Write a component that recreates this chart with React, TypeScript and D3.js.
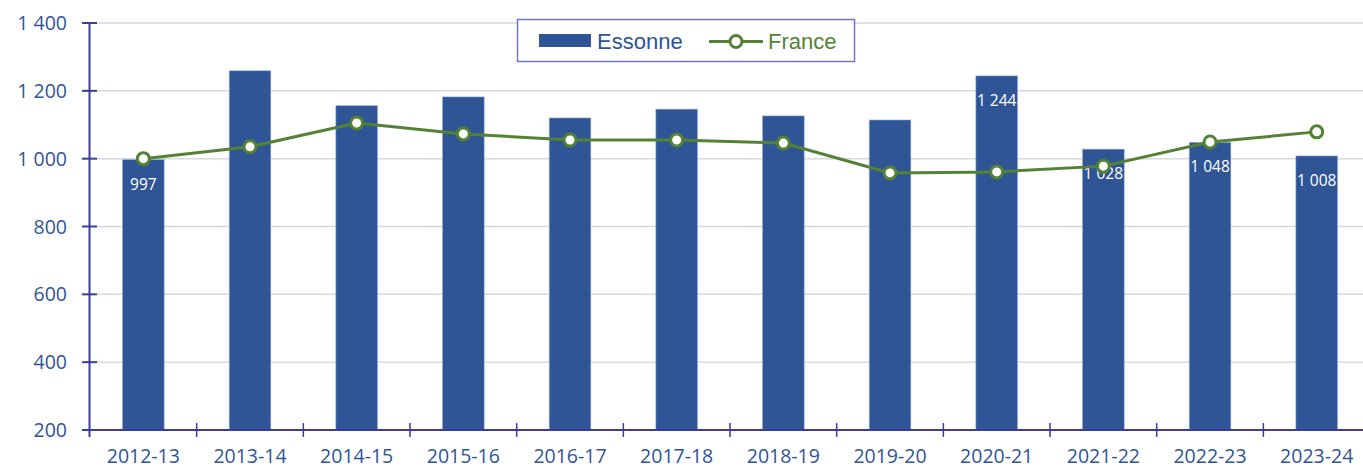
import React from "react";
import * as d3 from "d3";

const categories = ["2012-13","2013-14","2014-15","2015-16","2016-17","2017-18","2018-19","2019-20","2020-21","2021-22","2022-23","2023-24"];
const essonne = [997, 1259, 1156, 1182, 1120, 1146, 1126, 1114, 1244, 1028, 1048, 1008];
const france = [1000, 1035, 1105, 1073, 1055, 1055, 1046, 958, 961, 978, 1049, 1079];
const showLabel = [true, false, false, false, false, false, false, false, true, true, true, true];
const yTicks = [200, 400, 600, 800, 1000, 1200, 1400];

const W = 1363, H = 468;
const BLUE = "#2F5597";
const GREEN = "#548235";
const AXIS = "#3C3C9C";
const FONT = "'Open Sans', sans-serif";

const fr = d3.formatLocale({ decimal: ",", thousands: " ", grouping: [3], currency: ["", " €"] });
const fmt = fr.format(",d");

export default function App() {
  const x = d3.scaleBand<string>().domain(categories).range([90, 90 + 12 * 106.67]).paddingInner(0).paddingOuter(0);
  const y = d3.scaleLinear().domain([200, 1400]).range([430, 23]);
  const bw = x.bandwidth() * 0.39;
  const cx = (c: string) => (x(c) as number) + x.bandwidth() / 2;
  const line = d3.line<number>().x((_, i) => cx(categories[i])).y(d => y(d));

  return (
    <svg width={W} height={H} style={{ position: "absolute", left: 0, top: 0, background: "#fff" }}>
      <rect x={0} y={0} width={W} height={H} fill="#fff" />
      {yTicks.filter(t => t > 200).map(t => (
        <line key={t} x1={97} x2={W} y1={y(t)} y2={y(t)} stroke="#D9D9D9" strokeWidth={1.5} />
      ))}
      {essonne.map((v, i) => (
        <rect key={i} x={cx(categories[i]) - bw / 2} y={y(v)} width={bw} height={y(200) - y(v)} fill={BLUE} stroke="#8FA6CF" strokeWidth={0.6} />
      ))}
      {essonne.map((v, i) => showLabel[i] ? (
        <text key={i} x={cx(categories[i])} y={y(v) + 30} textAnchor="middle" fill="#fff" fontFamily={FONT} fontSize={15.5}>{fmt(v)}</text>
      ) : null)}
      <line x1={89.5} x2={89.5} y1={y(1400)} y2={437} stroke={AXIS} strokeWidth={2} />
      {yTicks.map(t => (
        <line key={t} x1={82} x2={97} y1={y(t)} y2={y(t)} stroke={AXIS} strokeWidth={2} />
      ))}
      {yTicks.map(t => (
        <text key={t} x={67} y={y(t)} dy="0.36em" textAnchor="end" fill={BLUE} fontFamily={FONT} fontSize={19.5}>{fmt(t)}</text>
      ))}
      <line x1={89} x2={W} y1={430} y2={430} stroke={AXIS} strokeWidth={2} />
      {categories.map((c, i) => i > 0 ? (
        <line key={c} x1={x(c) as number} x2={x(c) as number} y1={423} y2={437} stroke={AXIS} strokeWidth={1.5} />
      ) : null)}
      {categories.map(c => (
        <text key={c} x={cx(c)} y={462.5} textAnchor="middle" fill={BLUE} fontFamily={FONT} fontSize={19.5}>{c}</text>
      ))}
      <path d={line(france) || ""} fill="none" stroke={GREEN} strokeWidth={3} />
      {france.map((v, i) => (
        <circle key={i} cx={cx(categories[i])} cy={y(v)} r={6} fill="#fff" stroke={GREEN} strokeWidth={3} />
      ))}
      <rect x={517.5} y={19.5} width={337} height={42} fill="#fff" stroke="#7474C4" strokeWidth={1.5} />
      <rect x={539} y={34} width={52} height={13} fill={BLUE} />
      <text x={597} y={49} fill={BLUE} fontFamily="'Liberation Sans', Arial, sans-serif" fontSize={22}>Essonne</text>
      <line x1={709} x2={763} y1={41.5} y2={41.5} stroke={GREEN} strokeWidth={3} />
      <circle cx={736} cy={41.5} r={6} fill="#fff" stroke={GREEN} strokeWidth={3} />
      <text x={768} y={49} fill={GREEN} fontFamily="'Liberation Sans', Arial, sans-serif" fontSize={22}>France</text>
    </svg>
  );
}
